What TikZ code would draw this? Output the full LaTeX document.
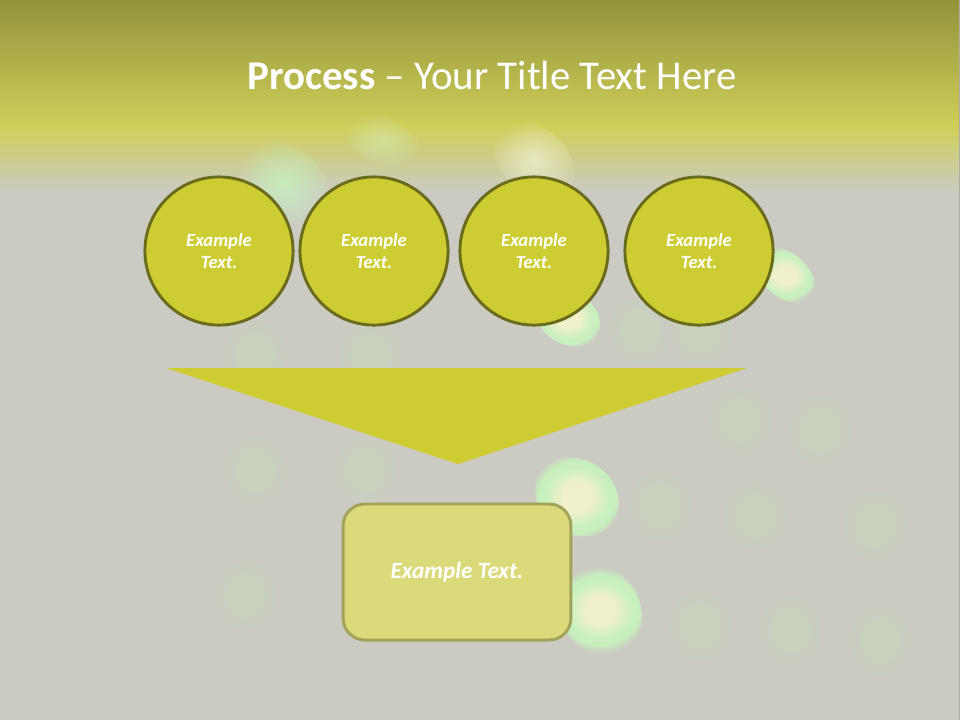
\documentclass[tikz,border=0pt]{standalone}
\usepackage{fontspec}
\setmainfont{Carlito}
\usetikzlibrary{positioning,fadings}
\definecolor{bggray}{HTML}{CBCBC3}
\definecolor{bandtop}{HTML}{93933C}
\definecolor{bandlow}{HTML}{CFCF5A}
\definecolor{bandfade}{HTML}{D6D6AC}
\definecolor{stagefill}{HTML}{CDCD33}
\definecolor{stageline}{HTML}{6B6B1E}
\definecolor{resfill}{HTML}{DADA7B}
\definecolor{resline}{HTML}{A2A25A}
\definecolor{glowin}{HTML}{F0F0CC}
\definecolor{glowout}{HTML}{C8F0BE}
\definecolor{dimin}{HTML}{C8D1BE}
\pgfdeclareradialshading{glow}{\pgfpoint{0bp}{0bp}}{color(0bp)=(glowin); color(8bp)=(glowin); color(17bp)=(glowout); color(20bp)=(glowout); color(25bp)=(bggray); color(50bp)=(bggray)}
\pgfdeclareradialshading{dimglow}{\pgfpoint{0bp}{0bp}}{color(0bp)=(dimin); color(12bp)=(dimin); color(25bp)=(bggray); color(50bp)=(bggray)}
\tikzfading[name=softspot,inner color=transparent!0,outer color=transparent!100]
\begin{document}
\begin{tikzpicture}[x=0.02646cm,y=-0.02646cm,
  stage/.style={circle,draw=stageline,line width=2.2pt,fill=stagefill,minimum size=3.92cm,
    inner sep=0pt,align=center,text=white,font=\bfseries\itshape\fontsize{14}{17}\selectfont},
  result/.style={rectangle,rounded corners=0.58cm,draw=resline,line width=2.2pt,fill=resfill,
    minimum width=6.03cm,minimum height=3.6cm,text=white,font=\bfseries\itshape\fontsize{17.5}{20}\selectfont},
  title/.style={text=white,font=\fontsize{30.8}{36}\selectfont}]
\useasboundingbox (0,0) rectangle (960,720);
% background
\fill[bggray] (0,0) rectangle (960,720);
\shade[top color=bandtop,bottom color=bandlow] (0,0) rectangle (960,128);
\shade[top color=bandlow,middle color=bandfade,bottom color=bggray] (0,127) rectangle (960,192);
\draw[bggray!85!black,line width=0.6pt] (959,0) -- (959,720);
% dim spots
\foreach \sx/\sy in {255/470,365/470,245/595,740/420,820/430,660/505,755/515,875/525,700/625,790/630,880/640,255/355,370/355,640/330,700/330}
  \shade[shading=dimglow] (\sx,\sy) ellipse [x radius=34,y radius=38];
% bright spots
\shade[shading=glow,rotate around={-35:(577,497)}] (577,497) ellipse [x radius=44,y radius=37];
\shade[shading=glow,rotate around={-60:(600,610)}] (600,610) ellipse [x radius=48,y radius=40];
\shade[shading=glow,rotate around={-40:(785,275)}] (785,275) ellipse [x radius=34,y radius=22];
\shade[shading=glow,rotate around={-30:(568,318)}] (568,318) ellipse [x radius=34,y radius=26];
% faint spots in the fade
\fill[glowout,path fading=softspot,fill opacity=0.9,rotate around={-40:(284,184)}] (284,184) ellipse [x radius=48,y radius=38];
\fill[glowin,path fading=softspot,fill opacity=0.8,rotate around={-40:(534,160)}] (534,160) ellipse [x radius=46,y radius=32];
\fill[glowout!60!glowin,path fading=softspot,fill opacity=0.5,rotate around={-20:(382,140)}] (382,140) ellipse [x radius=40,y radius=22];
% title
\node[title] (head) at (492,75) {\textbf{Process} – Your Title Text Here};
% stages
\node[stage] (s1) at (219,251) {Example\\Text.};
\node[stage] (s2) at (374,251) {Example\\Text.};
\node[stage] (s3) at (534,251) {Example\\Text.};
\node[stage] (s4) at (699,251) {Example\\Text.};
% funnel
\fill[stagefill] (166,368) -- (747,368) -- (458,464) -- cycle;
\node[result] (res) at (457,572) {Example Text.};
\end{tikzpicture}
\end{document}
